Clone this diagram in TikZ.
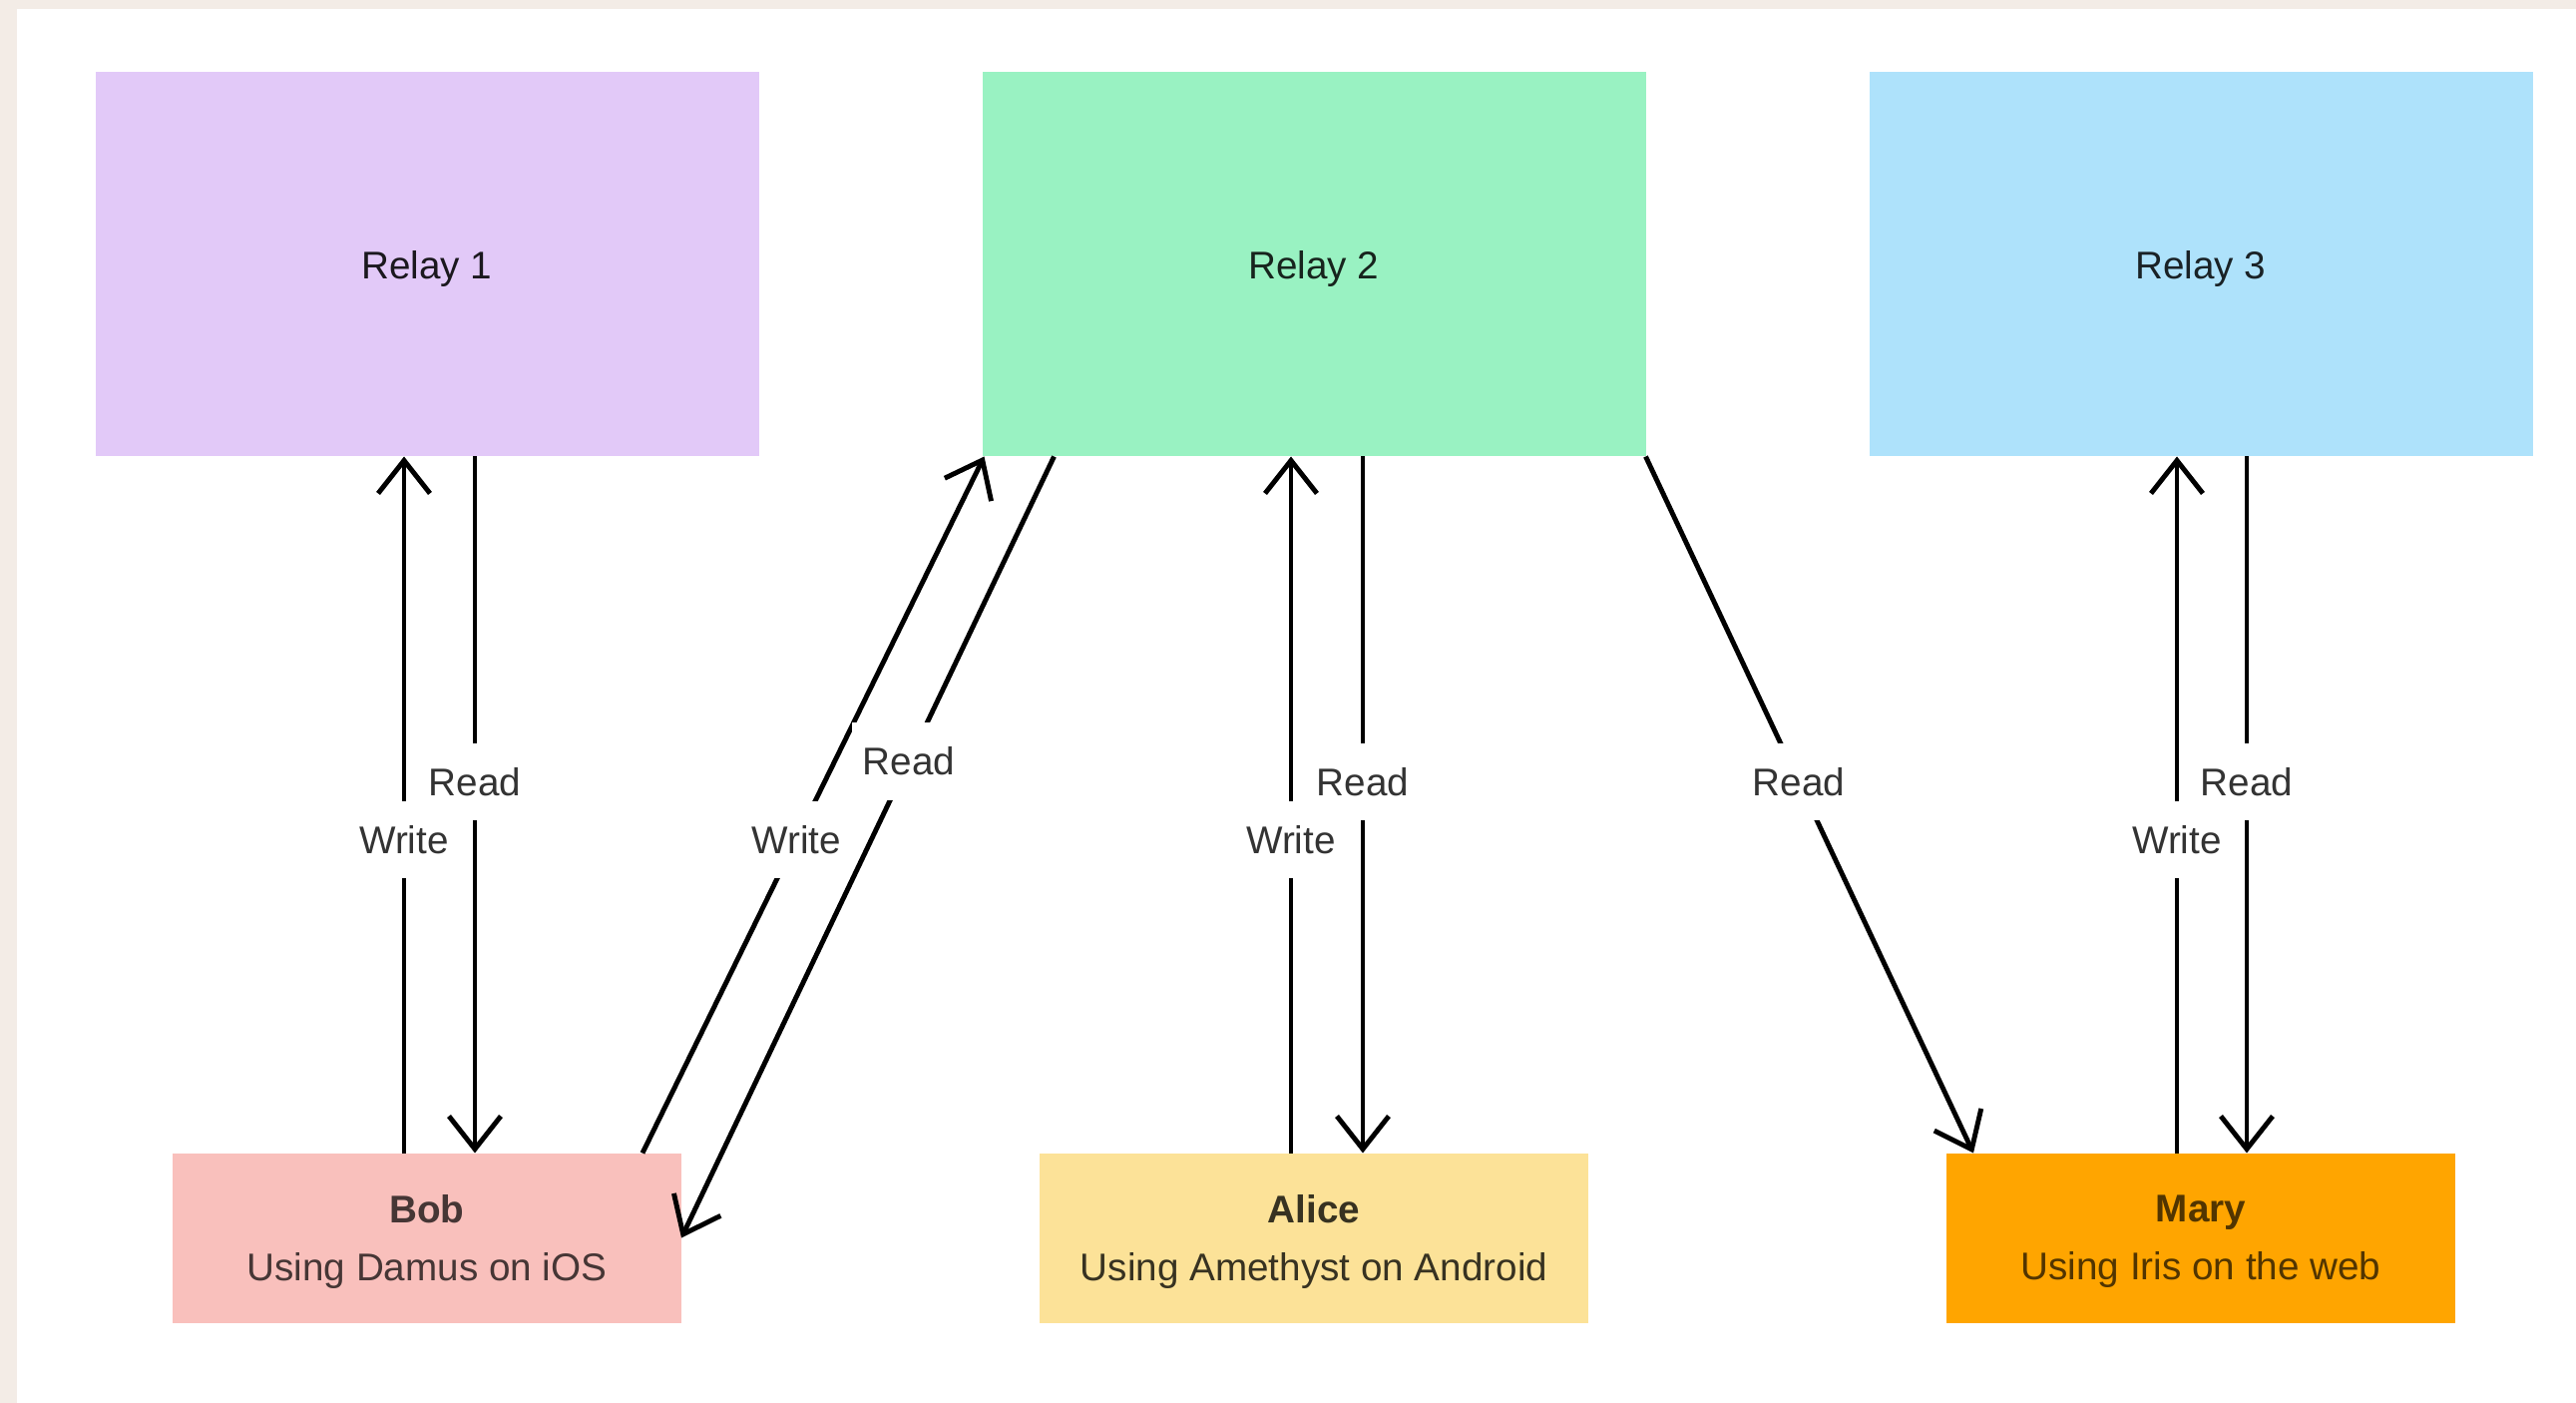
\documentclass[tikz,border=0pt]{standalone}
\usepackage{fontspec}
\setmainfont{Liberation Sans}
\usepackage{xcolor}
\usetikzlibrary{positioning,arrows.meta}

\definecolor{paper}{HTML}{F3ECE6}
\definecolor{relayA}{HTML}{E2C9F8}
\definecolor{relayB}{HTML}{99F2C2}
\definecolor{relayC}{HTML}{AEE2FB}
\definecolor{bobfill}{HTML}{F9C0BC}
\definecolor{alicefill}{HTML}{FCE298}
\definecolor{maryfill}{HTML}{FFA500}
\definecolor{labelgray}{HTML}{333333}

\begin{document}
\begin{tikzpicture}[
  box/.style={align=center, inner sep=0pt, outer sep=0pt, text depth=0pt, font=\fontsize{11}{16.5}\selectfont},
  relay/.style={box, minimum width=66.5mm, minimum height=38.5mm},
  client/.style={box, minimum width=51mm, minimum height=17mm},
  arr/.style={-{Straight Barb[length=3.3mm, width=5.2mm]}, line width=1.4pt},
  tag/.style={fill=white, inner xsep=3pt, inner ysep=7pt, text=labelgray, font=\fontsize{11}{13}\selectfont},
]
% background with the beige strip on the left and top
\useasboundingbox (0,0) rectangle (25.82,-14.06);
\fill[paper] (0,0) rectangle (25.82,-14.06);
\fill[white] (0.17,-0.09) rectangle (25.82,-14.06);

\node[relay, fill=relayA, text=relayA!12!black] (r1) at (4.28,-2.65) {Relay 1};
\node[relay, fill=relayB, text=relayB!15!black, right=22.4mm of r1] (r2) {Relay 2};
\node[relay, fill=relayC, text=relayC!15!black, right=22.4mm of r2] (r3) {Relay 3};

\node[client, fill=bobfill, text=bobfill!28!black, below=69.8mm of r1] (bob) {\textbf{Bob}\\Using Damus on iOS};
\node[client, fill=alicefill, text=alicefill!22!black, minimum width=55mm, below=69.8mm of r2] (alice) {\textbf{Alice}\\Using Amethyst on Android};
\node[client, fill=maryfill, text=maryfill!32!black, below=69.8mm of r3] (mary) {\textbf{Mary}\\Using Iris on the web};

% Bob <-> Relay 1
\draw[arr] ([xshift=-2.3mm]bob.north) -- node[tag, pos=0.45]{Write} ([xshift=-2.3mm]r1.south);
\draw[arr] ([xshift=4.8mm]r1.south) -- node[tag, pos=0.467]{Read} ([xshift=4.8mm]bob.north);
% Bob <-> Relay 2
\draw[arr] ([xshift=-3.9mm]bob.north east) -- node[tag, pos=0.45]{Write} ([xshift=0.2mm]r2.south west);
\draw[arr] ([xshift=7.2mm]r2.south west) -- node[tag, pos=0.39]{Read} (bob.east);
% Alice <-> Relay 2
\draw[arr] ([xshift=-2.3mm]alice.north) -- node[tag, pos=0.45]{Write} ([xshift=-2.3mm]r2.south);
\draw[arr] ([xshift=4.9mm]r2.south) -- node[tag, pos=0.467]{Read} ([xshift=4.9mm]alice.north);
% Relay 2 -> Mary
\draw[arr] (r2.south east) -- node[tag, pos=0.467]{Read} ([xshift=2.7mm]mary.north west);
% Mary <-> Relay 3
\draw[arr] ([xshift=-2.4mm]mary.north) -- node[tag, pos=0.45]{Write} ([xshift=-2.4mm]r3.south);
\draw[arr] ([xshift=4.6mm]r3.south) -- node[tag, pos=0.467]{Read} ([xshift=4.6mm]mary.north);
\end{tikzpicture}
\end{document}
